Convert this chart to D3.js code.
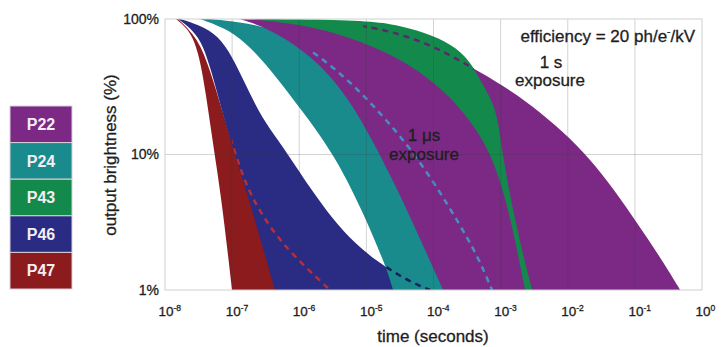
<!DOCTYPE html>
<html>
<head>
<meta charset="utf-8">
<script src="https://cdn.jsdelivr.net/npm/d3@7"></script>
<style>
  body { margin: 0; background: #fff; }
  text { font-family: "Liberation Sans", Arial, Helvetica, sans-serif; }
</style>
</head>
<body>
<svg id="chart" width="723" height="347"></svg>
<script>
// phosphor names, legend order
const phosphors = ['P22', 'P24', 'P43', 'P46', 'P47'];

// decay curves, [time (s), output brightness (%)]
// "fast" = left edge of a band (1 us exposure), "slow" = right edge (1 s exposure)
const p47Fast = [[1.46e-8, 100], [2.13e-8, 85.8], [2.80e-8, 67.6], [3.44e-8, 45.8], [4.08e-8, 27.5], [4.85e-8, 15.2], [5.96e-8, 7.69], [7.07e-8, 4.24], [8.39e-8, 2.1], [9.97e-8, 1]];
const p47Slow = [[1.56e-8, 100], [3.10e-8, 72.4], [4.69e-8, 42.0], [7.07e-8, 21.3], [1.07e-7, 10.8], [1.61e-7, 5.95], [2.61e-7, 3.76], [5.18e-7, 2.3], [1.14e-6, 1.53], [2.88e-6, 1]];

const p46Fast = [[1.56e-8, 100], [2.61e-8, 82.9], [3.68e-8, 64.3], [4.85e-8, 42.0], [6.38e-8, 25.3], [8.69e-8, 14.7], [1.22e-7, 8.36], [1.79e-7, 4.6], [2.79e-7, 2.15], [4.36e-7, 1]];
const p46Slow = [[1.68e-8, 100], [3.94e-8, 87.3], [7.07e-8, 70.0], [1.10e-7, 48.2], [1.73e-7, 29.9], [2.79e-7, 18.6], [4.83e-7, 12.8], [8.65e-7, 8.36], [1.72e-6, 5.0], [3.78e-6, 2.97], [8.63e-6, 1.97], [2.03e-5, 1.45], [4.48e-5, 1.15], [8.89e-5, 1]];

const p24Fast = [[3.33e-8, 100], [7.84e-8, 85.8], [1.56e-7, 67.6], [3.09e-7, 47.3], [7.3e-7, 27.5], [1.72e-6, 15.7], [3.42e-6, 9.42], [6.12e-6, 5.47], [9.90e-6, 3.3], [1.49e-5, 2.04], [2.03e-5, 1.41], [2.50e-5, 1]];
const p24Slow = [[4.69e-8, 100], [2.19e-7, 91.9], [6.14e-7, 77.5], [1.61e-6, 57.1], [4.06e-6, 40.0], [9.57e-6, 26.6], [2.25e-5, 16.8], [5.32e-5, 9.92], [1.25e-4, 5.29], [2.49e-4, 3.0], [4.47e-4, 1.81], [7.46e-4, 1]];

const p22Fast = [[1.31e-7, 100], [2.79e-7, 88.8], [5.54e-7, 73.6], [1.10e-6, 59.0], [2.19e-6, 44.2], [4.06e-6, 30.9], [7.26e-6, 20.2], [1.26e-5, 12.4], [2.25e-5, 7.06], [4.04e-5, 3.89], [7.50e-5, 1.97], [1.39e-4, 1]];
const p22Slow = [[1.31e-7, 100], [1.03e-6, 98.3], [4.06e-6, 93.4], [1.14e-5, 87.3], [3.18e-5, 77.5], [8.89e-5, 64.3], [2.10e-4, 51.5], [4.95e-4, 40.6], [1.39e-3, 29.9], [3.88e-3, 20.6], [1.09e-2, 13.2], [2.56e-2, 8.36], [6.04e-2, 4.77], [0.142, 2.55], [0.283, 1.53], [0.473, 1]];

const p43Fast = [[1.85e-7, 100], [7.3e-7, 93.4], [2.88e-6, 81.6], [1.14e-5, 64.3], [3.78e-5, 48.2], [8.89e-5, 35.5], [1.77e-4, 26.6], [3.17e-4, 18.9], [5.48e-4, 12.8], [8.57e-4, 7.95], [1.25e-3, 4.24], [1.70e-3, 2.15], [2.32e-3, 1]];
const p43Slow = [[1.85e-7, 100], [2.88e-6, 99.2], [1.60e-5, 95.0], [3.18e-5, 88.8], [9.86e-5, 76.2], [2.25e-4, 61.1], [3.51e-4, 48.2], [4.95e-4, 35.5], [6.97e-4, 26.6], [8.87e-4, 19.6], [1.05e-3, 10.8], [1.29e-3, 5.95], [1.64e-3, 3.3], [2.16e-3, 1.81], [2.95e-3, 1]];

// time from which the covered part of a slow edge is drawn dashed
const dashStart = { P47: 1.0e-7, P46: 1.8e-5, P24: 1.5e-6, P22: 9e-6 };

// axis ticks
const xTicks = [1e-8, 1e-7, 1e-6, 1e-5, 1e-4, 1e-3, 1e-2, 1e-1, 1];
const xTickExps = ['-8', '-7', '-6', '-5', '-4', '-3', '-2', '-1', '0'];
const yTicks = [1, 10, 100];

const colors = {
  P22: '#7b2985',
  P24: '#1a8b8d',
  P43: '#138a4b',
  P46: '#2a2b82',
  P47: '#8c1b1e'
};
const dashColors = {
  P47: '#b0303e',
  P46: '#1b1f5c',
  P24: '#4a8cc4',
  P22: '#5a2a6c'
};

// back to front
const bands = [
  { name: 'P47', fast: p47Fast, slow: p47Slow },
  { name: 'P46', fast: p46Fast, slow: p46Slow },
  { name: 'P24', fast: p24Fast, slow: p24Slow },
  { name: 'P22', fast: p22Fast, slow: p22Slow },
  { name: 'P43', fast: p43Fast, slow: p43Slow }
];

const margin = { top: 19, right: 21, bottom: 57, left: 165 };
const width = 723 - margin.left - margin.right;
const height = 347 - margin.top - margin.bottom;

const x = d3.scaleLog().domain([1e-8, 1]).range([margin.left, margin.left + width]);
const y = d3.scaleLog().domain([1, 100]).range([margin.top + height, margin.top]);

const svg = d3.select('#chart');
const defs = svg.append('defs');

defs.append('clipPath').attr('id', 'plot-clip')
  .append('rect')
  .attr('x', x(1e-8)).attr('y', y(100))
  .attr('width', x(1) - x(1e-8)).attr('height', y(1) - y(100));

const line = d3.line()
  .x(d => x(d[0]))
  .y(d => y(d[1]))
  .curve(d3.curveBasis);

// band = fast edge down, then slow edge back up
const bandPath = b => line(b.fast) + 'L' + line(b.slow.slice().reverse()).slice(1) + 'Z';

// clip for each dashed edge: area covered by the bands drawn above it
bands.forEach((b, i) => {
  if (!dashStart[b.name]) return;
  const cover = defs.append('clipPath').attr('id', 'cover-' + b.name);
  bands.slice(i + 1).forEach(o => cover.append('path').attr('d', bandPath(o)));
  defs.append('clipPath').attr('id', 'from-' + b.name)
    .append('rect')
    .attr('x', x(dashStart[b.name])).attr('y', y(100))
    .attr('width', x(1) - x(dashStart[b.name])).attr('height', y(1) - y(100));
});

const plot = svg.append('g').attr('clip-path', 'url(#plot-clip)');

plot.selectAll('path.band')
  .data(bands)
  .enter().append('path')
  .attr('class', 'band')
  .attr('d', bandPath)
  .attr('fill', d => colors[d.name]);

plot.selectAll('g.dash')
  .data(bands.filter(b => dashStart[b.name]))
  .enter().append('g')
  .attr('class', 'dash')
  .attr('clip-path', d => `url(#from-${d.name})`)
  .append('path')
  .attr('clip-path', d => `url(#cover-${d.name})`)
  .attr('d', d => line(d.slow))
  .attr('fill', 'none')
  .attr('stroke', d => dashColors[d.name])
  .attr('stroke-width', 2.5)
  .attr('stroke-dasharray', '6,5');

// grid
const grid = svg.append('g');
grid.selectAll('line.vx')
  .data(xTicks.slice(1, -1))
  .enter().append('line')
  .attr('x1', d => x(d)).attr('x2', d => x(d))
  .attr('y1', y(100)).attr('y2', y(1))
  .attr('stroke', 'rgba(60,60,60,0.22)');
grid.append('line')
  .attr('x1', x(1e-8)).attr('x2', x(1))
  .attr('y1', y(10)).attr('y2', y(10))
  .attr('stroke', 'rgba(60,60,60,0.22)');
grid.append('rect')
  .attr('x', x(1e-8)).attr('y', y(100))
  .attr('width', x(1) - x(1e-8)).attr('height', y(1) - y(100))
  .attr('fill', 'none')
  .attr('stroke', '#cfcfcf');

const ink = sel => sel.attr('fill', '#1e1e1e').attr('stroke', '#1e1e1e').attr('stroke-width', 0.3);

// y axis
const yAxis = svg.append('g')
  .attr('transform', `translate(${margin.left},0)`)
  .call(d3.axisLeft(y).tickValues(yTicks).tickFormat(d => d + '%').tickSize(0).tickPadding(6));
yAxis.select('.domain').remove();
yAxis.selectAll('text')
  .style('font-family', '"Liberation Sans", Arial, sans-serif')
  .style('font-size', '14px')
  .call(ink);

// x axis, labels as 10 with superscript
const xAxis = svg.append('g')
  .attr('transform', `translate(0,${margin.top + height})`)
  .call(d3.axisBottom(x).tickValues(xTicks).tickFormat('').tickSize(0));
xAxis.select('.domain').remove();
xAxis.selectAll('.tick text').each(function (d, i) {
  const t = d3.select(this)
    .attr('x', -7).attr('y', 26).attr('dy', 0)
    .attr('text-anchor', 'start')
    .style('font-family', '"Liberation Sans", Arial, sans-serif')
    .style('font-size', '13.5px')
    .call(ink);
  t.append('tspan').text('10');
  t.append('tspan').attr('dy', -5).style('font-size', '8.5px').text(xTickExps[i]);
});

// axis titles
svg.append('text')
  .attr('x', 433).attr('y', 342)
  .attr('text-anchor', 'middle')
  .style('font-size', '17px')
  .call(ink)
  .text('time (seconds)');

svg.append('text')
  .attr('transform', 'translate(116,155) rotate(-90)')
  .attr('text-anchor', 'middle')
  .style('font-size', '17px')
  .call(ink)
  .text('output brightness (%)');

// annotations
const eff = svg.append('text')
  .attr('x', 695).attr('y', 42)
  .attr('text-anchor', 'end')
  .style('font-size', '17px')
  .call(ink);
eff.append('tspan').text('efficiency = 20 ph/e');
eff.append('tspan').attr('dy', -7).style('font-size', '10px').text('-');
eff.append('tspan').attr('dy', 7).text('/kV');

svg.append('text')
  .attr('x', 551).attr('y', 68)
  .attr('text-anchor', 'middle')
  .style('font-size', '17px').call(ink).text('1 s');
svg.append('text')
  .attr('x', 550).attr('y', 86)
  .attr('text-anchor', 'middle')
  .style('font-size', '17px').call(ink).text('exposure');

svg.append('text')
  .attr('x', 424).attr('y', 141)
  .attr('text-anchor', 'middle')
  .style('font-size', '17px').call(ink).text('1 μs');
svg.append('text')
  .attr('x', 424).attr('y', 160)
  .attr('text-anchor', 'middle')
  .style('font-size', '17px').call(ink).text('exposure');

// legend
const ly = d3.scaleBand().domain(phosphors).range([106, 289]);
const legend = svg.selectAll('g.legend')
  .data(phosphors)
  .enter().append('g')
  .attr('class', 'legend')
  .attr('transform', d => `translate(10,${ly(d)})`);

legend.append('rect')
  .attr('width', 62)
  .attr('height', ly.bandwidth())
  .attr('fill', d => colors[d])
  .attr('stroke', '#d9cfd9')
  .attr('stroke-width', 1);

legend.append('text')
  .attr('x', 31)
  .attr('y', ly.bandwidth() / 2)
  .attr('dy', '0.36em')
  .attr('text-anchor', 'middle')
  .attr('fill', '#f2eef4')
  .style('font-size', '16px')
  .style('font-weight', 'bold')
  .text(d => d);
</script>
</body>
</html>
